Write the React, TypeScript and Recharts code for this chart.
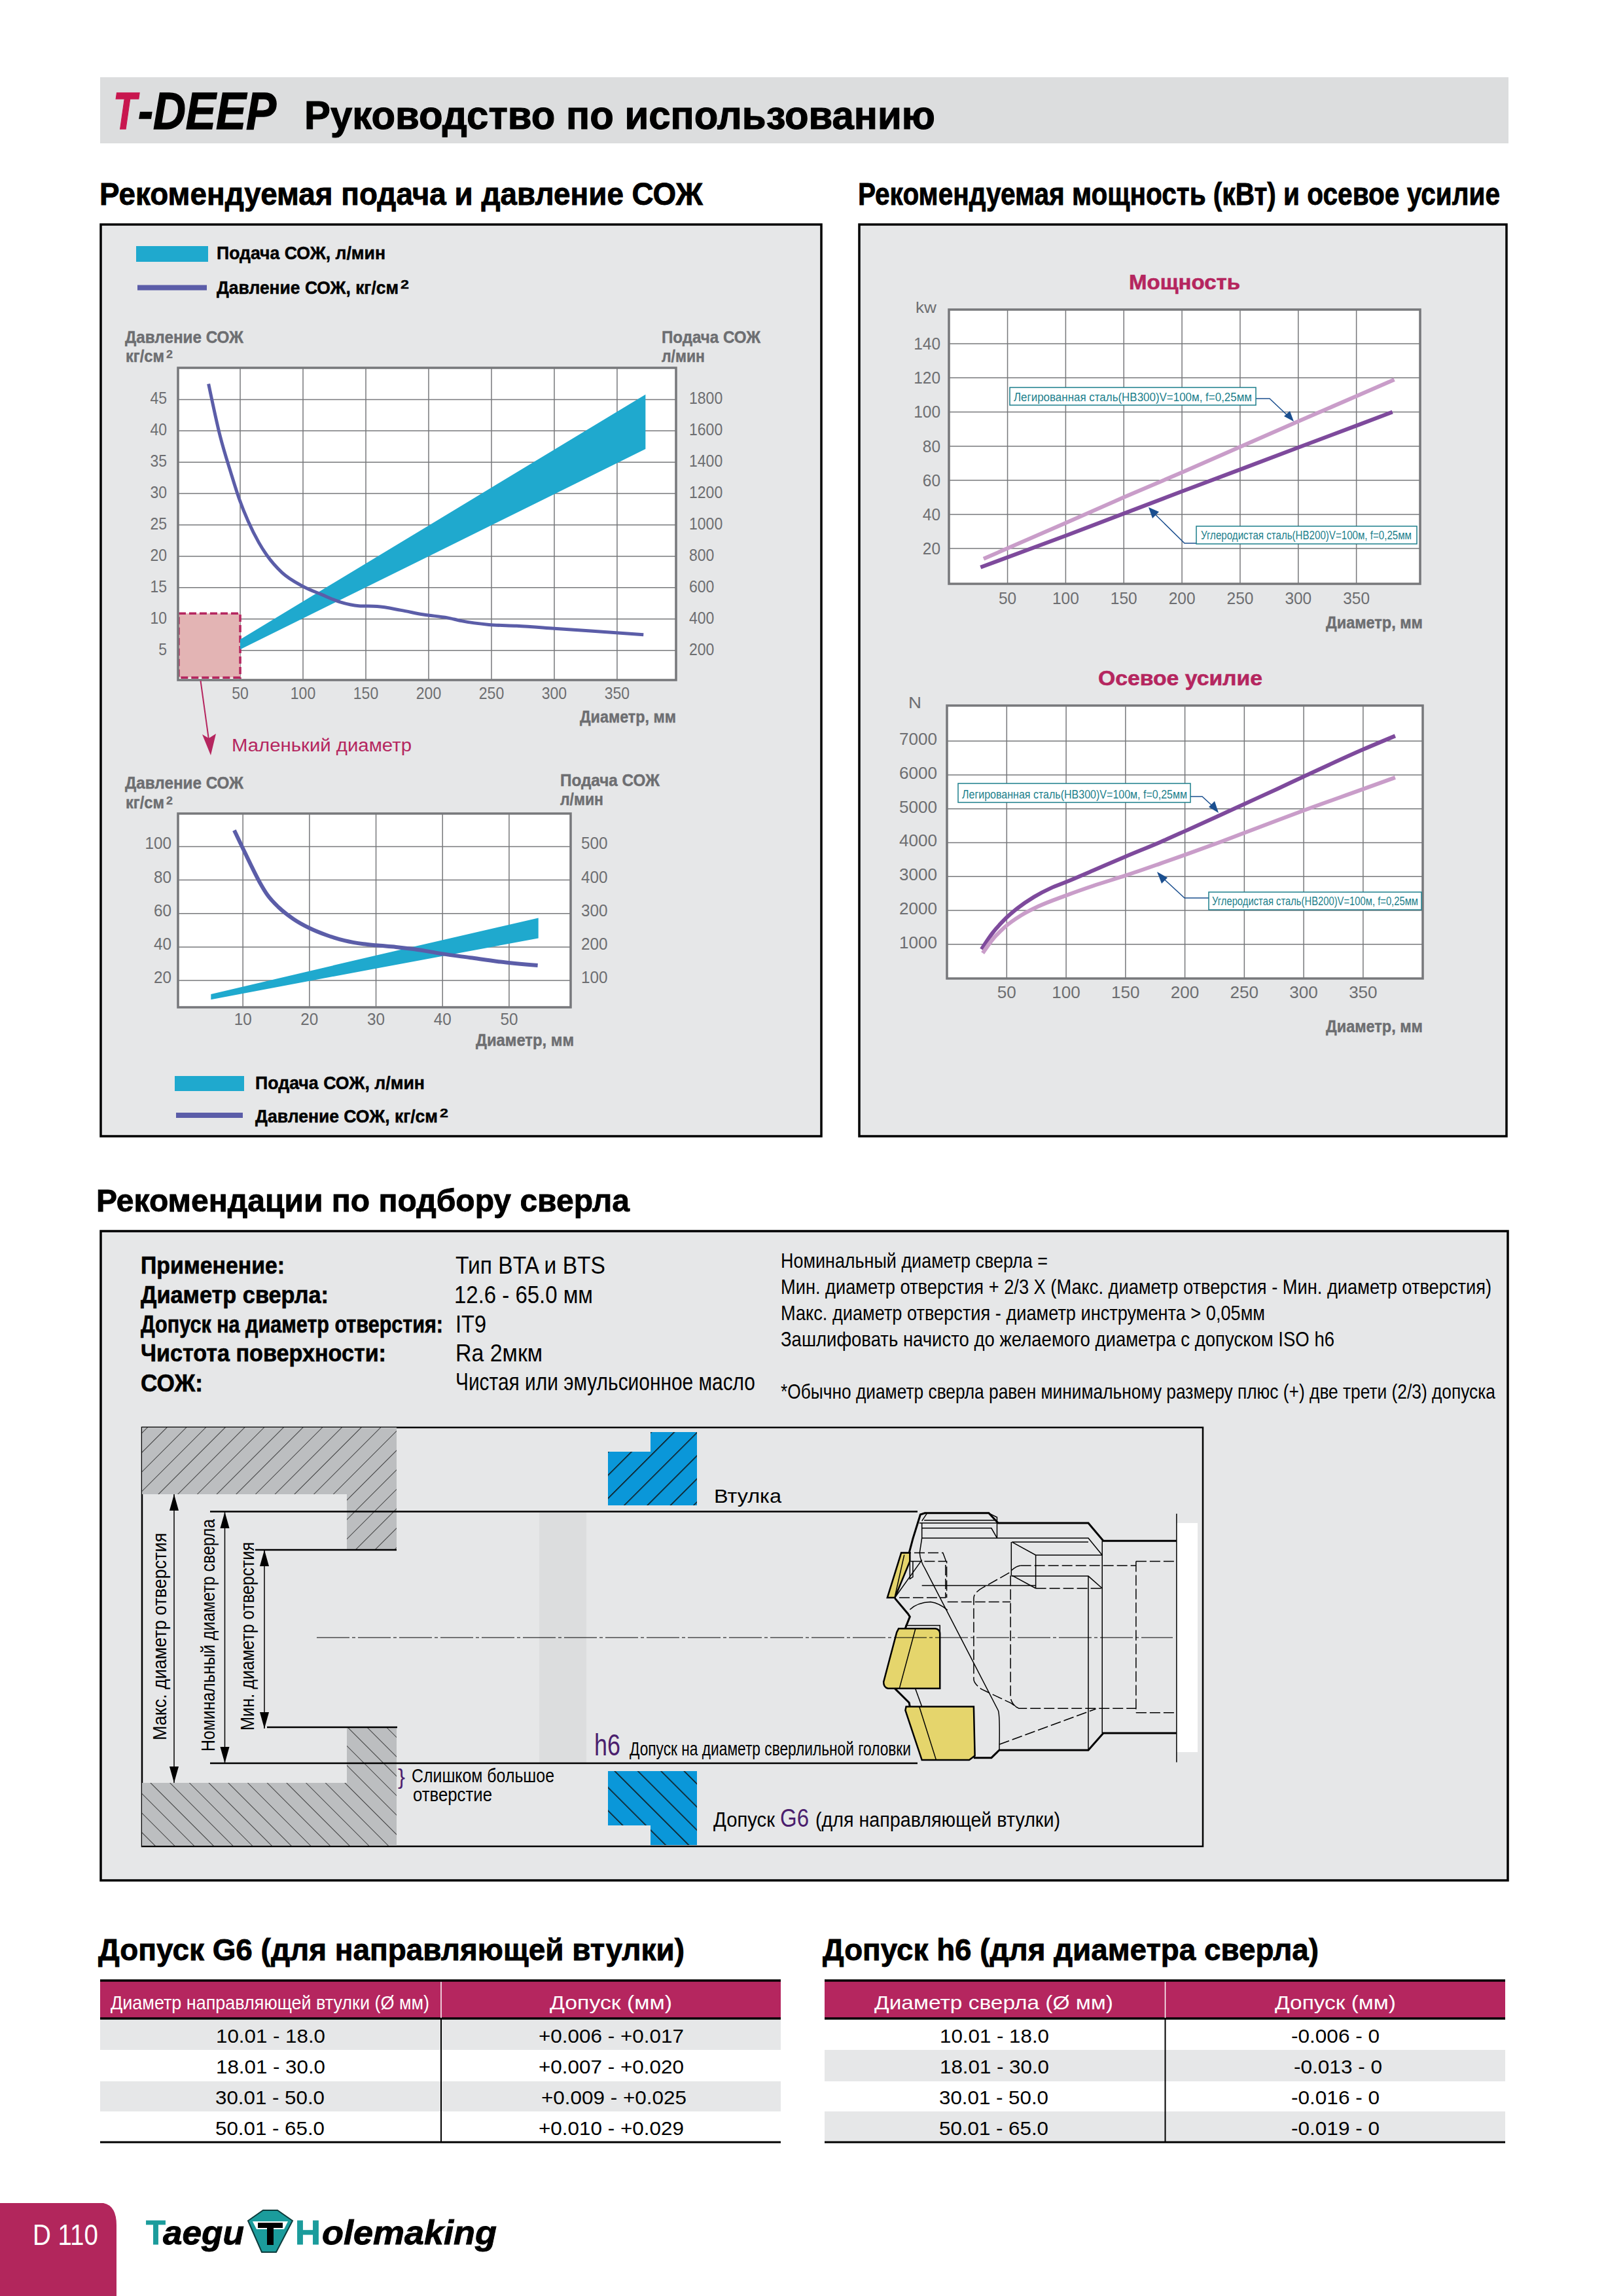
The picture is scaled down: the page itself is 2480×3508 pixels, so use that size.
import React from 'react';
import {
  ComposedChart,
  LineChart,
  Line,
  Area,
  XAxis,
  YAxis,
  CartesianGrid,
  ReferenceArea
} from 'recharts';

// flow / pressure, main range
const mainDiameterTicks = [50, 100, 150, 200, 250, 300, 350];
const mainPressureTicks = [5, 10, 15, 20, 25, 30, 35, 40, 45];
const mainFlowTicks = [200, 400, 600, 800, 1000, 1200, 1400, 1600, 1800];
const mainPressure = [
  { d: 24.8, p: 47.5 }, { d: 34.1, p: 39.1 }, { d: 42.6, p: 33.3 }, { d: 49.3, p: 29.1 },
  { d: 56.3, p: 25.6 }, { d: 64.8, p: 22.2 }, { d: 71.1, p: 20.2 }, { d: 83.3, p: 17.4 },
  { d: 100, p: 15.2 }, { d: 114.8, p: 13.9 }, { d: 129.6, p: 12.7 }, { d: 144.4, p: 12.1 },
  { d: 159, p: 12 }, { d: 178, p: 11.4 }, { d: 196, p: 10.7 }, { d: 215, p: 10.2 },
  { d: 226, p: 9.7 }, { d: 248, p: 9.1 }, { d: 270, p: 8.9 }, { d: 300, p: 8.5 },
  { d: 329, p: 8.1 }, { d: 371, p: 7.5 }
];
const mainFlow = [
  { d: 50, q: [206, 270] },
  { d: 200, q: [800, 996] },
  { d: 372.6, q: [1484, 1832] }
];

// flow / pressure, small diameters
const smallDiameterTicks = [10, 20, 30, 40, 50];
const smallPressureTicks = [20, 40, 60, 80, 100];
const smallFlowTicks = [100, 200, 300, 400, 500];
const smallPressure = [
  { d: 8.7, p: 109.7 }, { d: 10, p: 98.9 }, { d: 11.3, p: 88.2 }, { d: 12.7, p: 77.4 },
  { d: 13.7, p: 71 }, { d: 15.4, p: 63.6 }, { d: 17.6, p: 56.7 }, { d: 20, p: 51.3 },
  { d: 22.5, p: 47.2 }, { d: 25.3, p: 43.8 }, { d: 28.1, p: 41.8 }, { d: 30, p: 41 },
  { d: 33, p: 40 }, { d: 35.8, p: 38.7 }, { d: 40, p: 35.9 }, { d: 44.2, p: 33.6 },
  { d: 48.4, p: 31.3 }, { d: 54.3, p: 29 }
];
const smallFlow = [
  { d: 5.2, q: [43, 59] },
  { d: 30, q: [136, 175] },
  { d: 54.4, q: [226, 287] }
];

// power
const powerDiameterTicks = [50, 100, 150, 200, 250, 300, 350];
const powerTicks = [20, 40, 60, 80, 100, 120, 140];
const powerAlloy = [
  { d: 29.4, v: 14 }, { d: 100, v: 35 }, { d: 150, v: 50 }, { d: 200, v: 64.6 },
  { d: 250, v: 79.6 }, { d: 300, v: 94.5 }, { d: 350, v: 109.3 }, { d: 382.6, v: 119 }
];
const powerCarbon = [
  { d: 26.8, v: 9 }, { d: 100, v: 27.5 }, { d: 150, v: 40.5 }, { d: 200, v: 53.5 },
  { d: 250, v: 66.3 }, { d: 300, v: 79.2 }, { d: 350, v: 92 }, { d: 381, v: 100 }
];

// thrust
const thrustDiameterTicks = [50, 100, 150, 200, 250, 300, 350];
const thrustTicks = [1000, 2000, 3000, 4000, 5000, 6000, 7000];
const thrustAlloy = [
  { d: 28.8, v: 855 }, { d: 37.6, v: 1313 }, { d: 48.2, v: 1733 }, { d: 58.9, v: 2060 },
  { d: 73, v: 2400 }, { d: 87.2, v: 2660 }, { d: 100, v: 2840 }, { d: 122.7, v: 3180 },
  { d: 150, v: 3590 }, { d: 179.5, v: 4020 }, { d: 200, v: 4340 }, { d: 229, v: 4800 },
  { d: 250, v: 5140 }, { d: 278, v: 5590 }, { d: 300, v: 5950 }, { d: 350, v: 6750 },
  { d: 377, v: 7150 }
];
const thrustCarbon = [
  { d: 29.8, v: 740 }, { d: 37.6, v: 1122 }, { d: 48.2, v: 1504 }, { d: 62.4, v: 1860 },
  { d: 76.6, v: 2120 }, { d: 100, v: 2443 }, { d: 122.7, v: 2725 }, { d: 150, v: 3030 },
  { d: 179, v: 3380 }, { d: 200, v: 3640 }, { d: 229, v: 4010 }, { d: 250, v: 4290 },
  { d: 278, v: 4660 }, { d: 300, v: 4950 }, { d: 350, v: 5580 }, { d: 377, v: 5924 }
];

// tolerance tables
const g6Diameters = ['10.01 - 18.0', '18.01 - 30.0', '30.01 - 50.0', '50.01 - 65.0'];
const g6Tolerances = ['+0.006 - +0.017', '+0.007 - +0.020', '+0.009 - +0.025', '+0.010 - +0.029'];
const h6Diameters = ['10.01 - 18.0', '18.01 - 30.0', '30.01 - 50.0', '50.01 - 65.0'];
const h6Tolerances = ['-0.006 - 0', '-0.013 - 0', '-0.016 - 0', '-0.019 - 0'];

const FONT = '"Liberation Sans", Arial, sans-serif';
const GRAY = '#6d6e71';
const CRIMSON = '#b5265f';
const PANEL = '#e6e7e8';
const TEAL = '#1fa9ce';
const PRESSURE = '#5b5da8';
const DARK = '#7e4a9c';
const LIGHT = '#c99dc9';
const NOTE = '#1c7f8c';
const ARROW = '#1b4f8f';

type Plot = { x: number; y: number; w: number; h: number };

const T = ({ x, y, w, size, bold, italic, fill = '#000', rotate, children }: any) => (
  <text
    x={x}
    y={y}
    fontFamily={FONT}
    fontSize={size}
    fontWeight={bold ? 700 : 400}
    fontStyle={italic ? 'italic' : 'normal'}
    fill={fill}
    stroke={bold ? fill : 'none'}
    strokeWidth={bold ? size * 0.018 : 0}
    textLength={w}
    lengthAdjust="spacingAndGlyphs"
    transform={rotate ? `rotate(-90 ${x} ${y})` : undefined}
  >
    {children}
  </text>
);

// axis labels are squeezed to the width they have in the print
const AxisTick = ({ x, y, payload, textAnchor, charW, drop, size = 26 }: any) => (
  <text
    x={x}
    y={y + drop}
    textAnchor={textAnchor}
    fontFamily={FONT}
    fontSize={size}
    fill={GRAY}
    textLength={String(payload.value).length * charW}
    lengthAdjust="spacingAndGlyphs"
  >
    {payload.value}
  </text>
);

const frameStyle = (plot: Plot): React.CSSProperties => ({
  position: 'absolute',
  left: plot.x - 100,
  top: plot.y - 20
});

type FlowChartProps = {
  plot: Plot;
  xDomain: number[];
  xTicks: number[];
  pressureDomain: number[];
  pressureTicks: number[];
  flowDomain: number[];
  flowTicks: number[];
  pressure: { d: number; p: number }[];
  flow: { d: number; q: number[] }[];
  charW: number;
  xDrop: number;
  yDrop: number;
  leftGap: number;
  rightGap: number;
  lineWidth: number;
  showSmallRange?: boolean;
};

const FlowChart = ({
  plot, xDomain, xTicks, pressureDomain, pressureTicks, flowDomain, flowTicks, pressure, flow,
  charW, xDrop, yDrop, leftGap, rightGap, lineWidth, showSmallRange
}: FlowChartProps) => (
  <div style={frameStyle(plot)}>
    <ComposedChart
      width={plot.w + 200}
      height={plot.h + 80}
      margin={{ top: 20, right: 0, bottom: 0, left: 0 }}
    >
      <CartesianGrid yAxisId="left" stroke="#77787b" strokeWidth={1.5} fill="#fff" />
      <XAxis
        dataKey="d"
        type="number"
        domain={xDomain}
        ticks={xTicks}
        interval={0}
        height={60}
        tickLine={false}
        axisLine={false}
        tickSize={0}
        tickMargin={0}
        tick={(p: any) => <AxisTick {...p} charW={charW} drop={xDrop} />}
        allowDataOverflow
      />
      <YAxis
        yAxisId="left"
        type="number"
        domain={pressureDomain}
        ticks={pressureTicks}
        interval={0}
        width={100}
        tickLine={false}
        axisLine={false}
        tickSize={0}
        tickMargin={leftGap}
        tick={(p: any) => <AxisTick {...p} charW={charW} drop={yDrop} />}
        allowDataOverflow
      />
      <YAxis
        yAxisId="right"
        orientation="right"
        type="number"
        domain={flowDomain}
        ticks={flowTicks}
        interval={0}
        width={100}
        tickLine={false}
        axisLine={false}
        tickSize={0}
        tickMargin={rightGap}
        tick={(p: any) => <AxisTick {...p} charW={charW} drop={yDrop} />}
        allowDataOverflow
      />
      {showSmallRange && (
        <ReferenceArea
          yAxisId="left"
          x1={1}
          x2={50}
          y1={0.65}
          y2={10.9}
          fill="#e3b4b4"
          fillOpacity={1}
          stroke={CRIMSON}
          strokeWidth={3.5}
          strokeDasharray="11 5"
        />
      )}
      <Area
        yAxisId="right"
        data={flow}
        dataKey="q"
        type="linear"
        fill={TEAL}
        fillOpacity={1}
        stroke="none"
        isAnimationActive={false}
      />
      <Line
        yAxisId="left"
        data={pressure}
        dataKey="p"
        type="monotone"
        stroke={PRESSURE}
        strokeWidth={lineWidth}
        dot={false}
        isAnimationActive={false}
      />
    </ComposedChart>
  </div>
);

type SteelChartProps = {
  plot: Plot;
  xDomain: number[];
  xTicks: number[];
  yDomain: number[];
  yTicks: number[];
  charW: number;
  xDrop: number;
  yDrop: number;
  leftGap: number;
  curve: 'linear' | 'monotone';
  first: { d: number; v: number }[];
  firstColor: string;
  second: { d: number; v: number }[];
  secondColor: string;
};

const SteelChart = ({
  plot, xDomain, xTicks, yDomain, yTicks, charW, xDrop, yDrop, leftGap, curve,
  first, firstColor, second, secondColor
}: SteelChartProps) => (
  <div style={frameStyle(plot)}>
    <LineChart
      width={plot.w + 200}
      height={plot.h + 80}
      margin={{ top: 20, right: 100, bottom: 0, left: 0 }}
    >
      <CartesianGrid stroke="#77787b" strokeWidth={1.5} fill="#fff" />
      <XAxis
        dataKey="d"
        type="number"
        domain={xDomain}
        ticks={xTicks}
        interval={0}
        height={60}
        tickLine={false}
        axisLine={false}
        tickSize={0}
        tickMargin={0}
        tick={(p: any) => <AxisTick {...p} charW={charW} drop={xDrop} />}
        allowDataOverflow
      />
      <YAxis
        type="number"
        domain={yDomain}
        ticks={yTicks}
        interval={0}
        width={100}
        tickLine={false}
        axisLine={false}
        tickSize={0}
        tickMargin={leftGap}
        tick={(p: any) => <AxisTick {...p} charW={charW} drop={yDrop} />}
        allowDataOverflow
      />
      <Line data={first} dataKey="v" type={curve} stroke={firstColor} strokeWidth={6} dot={false} isAnimationActive={false} />
      <Line data={second} dataKey="v" type={curve} stroke={secondColor} strokeWidth={6} dot={false} isAnimationActive={false} />
    </LineChart>
  </div>
);

const Panel = ({ x, y, w, h }: any) => (
  <rect x={x} y={y} width={w} height={h} fill={PANEL} stroke="#000" strokeWidth={3.5} />
);

const AxisUnit = ({ x, y }: any) => (
  <>
    <T x={x} y={y} w={59} size={25} bold fill={GRAY}>кг/см</T>
    <T x={x + 62} y={y - 6} w={10} size={17} bold fill={GRAY}>2</T>
  </>
);

const LegendRows = ({ rectX, rectW, rectY, rectH, lineY, textX, flowW, pressureW, flowBase, pressureBase }: any) => (
  <>
    <rect x={rectX} y={rectY} width={rectW} height={rectH} fill={TEAL} />
    <T x={textX} y={flowBase} w={flowW} size={28} bold>Подача СОЖ, л/мин</T>
    <line x1={rectX + 2} x2={rectX + rectW - 2} y1={lineY} y2={lineY} stroke={PRESSURE} strokeWidth={8} />
    <T x={textX} y={pressureBase} w={pressureW} size={28} bold>Давление СОЖ, кг/см</T>
    <T x={textX + pressureW + 3} y={pressureBase - 8} w={13} size={19} bold>2</T>
  </>
);

const ToleranceTable = ({ x, w, divider, rows, tols, oddGray, head1, head2, spans, tolSpans }: any) => {
  const tops = [3086, 3132, 3180, 3226];
  const bottoms = [3132, 3180, 3226, 3272];
  const bases = [3121, 3168, 3215, 3262];
  return (
    <>
      <rect x={x} y={3026} width={w} height={58} fill={CRIMSON} />
      {tops.map((top, i) =>
        (i % 2 === 0) === oddGray ? (
          <rect key={top} x={x} y={top} width={w} height={bottoms[i] - top} fill={PANEL} />
        ) : null
      )}
      <line x1={x} x2={x + w} y1={3026} y2={3026} stroke="#000" strokeWidth={3.5} />
      <line x1={x} x2={x + w} y1={3084} y2={3084} stroke="#000" strokeWidth={3.5} />
      <line x1={x} x2={x + w} y1={3273} y2={3273} stroke="#000" strokeWidth={3} />
      <line x1={divider} x2={divider} y1={3028} y2={3083} stroke="#fff" strokeWidth={1.5} />
      <line x1={divider} x2={divider} y1={3085} y2={3272} stroke="#000" strokeWidth={2} />
      <T x={head1[0]} y={3070} w={head1[1]} size={30} fill="#fff">{head1[2]}</T>
      <T x={head2[0]} y={3070} w={head2[1]} size={30} fill="#fff">{head2[2]}</T>
      {rows.map((row: string, i: number) => (
        <T key={row} x={spans[i]} y={bases[i]} w={167} size={30}>{row}</T>
      ))}
      {tols.map((tol: string, i: number) => (
        <T key={tol} x={tolSpans[i][0]} y={bases[i]} w={tolSpans[i][1]} size={30}>{tol}</T>
      ))}
    </>
  );
};

const thickDrill = [
  'M1390,448 H1195 L1155,385 H915 L890,350 H720 L708,355 L688,440 L678,490',
  'M1390,1125 H1195 L1155,1185 H918 L897,1212 H850',
  'M640,650 L675,705 L680,715 L668,755',
  'M640,968 L678,1018 L680,1032'
];
const thinDrill = [
  'M712,438 H1155 L1192,498',
  'M952,452 H1155',
  'M952,452 L1015,498 H1192',
  'M1015,498 V615',
  'M952,570 L1015,615',
  'M1192,448 V1125',
  'M950,452 V570',
  'M950,572 H1155 L1192,615',
  'M1155,572 V1185',
  'M712,605 H1015',
  'M718,375 H912',
  'M725,352 L712,378',
  'M705,385 H915',
  'M712,403 H897 L912,438',
  'M890,350 L912,365 V438',
  'M712,385 V438 L706,490 Q708,520 720,545 L915,1045 Q920,1060 918,1185',
  'M640,648 L712,515',
  'M680,690 Q700,665 735,663 Q760,668 780,692',
  'M695,970 L712,1032',
  'M680,520 V582 L688,575 V520',
  'M668,746 H760 V820',
  'M1390,352 V1228'
];
const dashedDrill = [
  'M655,490 H768 L775,515 V648 H650',
  'M682,520 H778 V648',
  'M780,663 H948',
  'M975,535 H1282',
  'M975,535 Q960,537 945,560 L875,612 Q850,630 850,650 V935 Q850,950 870,970 L950,1020 Q960,1030 970,1038 H1282',
  'M948,570 V1000 Q950,1020 965,1035',
  'M1282,520 V1053',
  'M1282,520 H1390',
  'M1282,1053 H1390',
  'M918,1165 L1175,1040',
  'M1015,615 H1192'
];

const DrillHead = () => (
  <g transform="translate(1000,2160) scale(0.574,0.4337)">
    <rect x={1390} y={385} width={56} height={807} fill="#fff" />
    <path d="M650,757 H748 Q760,760 760,775 V968 H622 Q610,965 610,945 L645,770 Z" fill="#e5d56c" stroke="#000" strokeWidth={2.5} vectorEffect="non-scaling-stroke" />
    <path d="M670,1032 H850 L853,1205 L838,1220 H712 L668,1045 Z" fill="#e5d56c" stroke="#000" strokeWidth={2.5} vectorEffect="non-scaling-stroke" />
    <path d="M657,490 H680 V520 L640,648 H620 Z" fill="#e5d56c" stroke="#000" strokeWidth={2.5} vectorEffect="non-scaling-stroke" />
    <path d="M695,757 L652,968 M705,1032 L750,1220 M665,497 L640,645" fill="none" stroke="#000" strokeWidth={1.5} vectorEffect="non-scaling-stroke" />
    {thickDrill.map((d) => (
      <path key={d} d={d} fill="none" stroke="#000" strokeWidth={3} vectorEffect="non-scaling-stroke" />
    ))}
    {thinDrill.map((d) => (
      <path key={d} d={d} fill="none" stroke="#000" strokeWidth={1.5} vectorEffect="non-scaling-stroke" />
    ))}
    {dashedDrill.map((d) => (
      <path key={d} d={d} fill="none" stroke="#000" strokeWidth={1.5} strokeDasharray="16 5" vectorEffect="non-scaling-stroke" />
    ))}
  </g>
);

const DimArrow = ({ x, y1, y2 }: any) => (
  <>
    <line x1={x} x2={x} y1={y1} y2={y2} stroke="#000" strokeWidth={1.5} />
    <polygon points={`${x},${y1} ${x - 7},${y1 + 25} ${x + 7},${y1 + 25}`} fill="#000" />
    <polygon points={`${x},${y2} ${x - 7},${y2 - 25} ${x + 7},${y2 - 25}`} fill="#000" />
  </>
);

const Note = ({ x, y, w, h, textX, textY, textW, children, leader, head }: any) => (
  <>
    <polyline points={leader} fill="none" stroke={ARROW} strokeWidth={1.5} />
    <polygon points={head} fill={ARROW} />
    <rect x={x} y={y} width={w} height={h} fill="#fff" stroke={NOTE} strokeWidth={1.5} />
    <T x={textX} y={textY} w={textW} size={18} fill={NOTE}>{children}</T>
  </>
);

const Page = () => (
  <svg width={2480} height={3508} style={{ position: 'absolute', left: 0, top: 0 }}>
    <defs>
      <pattern id="hatchUp" width={21} height={21} patternUnits="userSpaceOnUse" patternTransform="rotate(45)">
        <line x1={0} x2={0} y1={0} y2={21} stroke="#222" strokeWidth={1.6} />
      </pattern>
      <pattern id="hatchDown" width={21} height={21} patternUnits="userSpaceOnUse" patternTransform="rotate(-45)">
        <line x1={0} x2={0} y1={0} y2={21} stroke="#222" strokeWidth={1.6} />
      </pattern>
      <pattern id="blueUp" width={25} height={25} patternUnits="userSpaceOnUse" patternTransform="rotate(45)">
        <line x1={0} x2={0} y1={0} y2={25} stroke="#111" strokeWidth={3} />
      </pattern>
      <pattern id="blueDown" width={25} height={25} patternUnits="userSpaceOnUse" patternTransform="rotate(-45)">
        <line x1={0} x2={0} y1={0} y2={25} stroke="#111" strokeWidth={3} />
      </pattern>
    </defs>

    {/* page header */}
    <rect x={153} y={118} width={2152} height={101} fill="#dcddde" />
    <T x={173} y={197} w={36} size={80} bold italic fill="#c8174f">T</T>
    <T x={211} y={197} w={211} size={80} bold italic>-DEEP</T>
    <T x={465} y={197} w={964} size={62} bold>Руководство по использованию</T>
    <T x={152} y={313} w={922} size={49} bold>Рекомендуемая подача и давление СОЖ</T>
    <T x={1311} y={313} w={981} size={49} bold>Рекомендуемая мощность (кВт) и осевое усилие</T>

    <Panel x={154} y={343} w={1101} h={1393} />
    <Panel x={1313} y={343} w={989} h={1393} />

    <LegendRows rectX={208} rectW={110} rectY={376} rectH={24} lineY={439.5} textX={331} flowW={258} pressureW={278} flowBase={396} pressureBase={449} />
    <T x={191} y={524} w={181} size={25} bold fill={GRAY}>Давление СОЖ</T>
    <AxisUnit x={192} y={553} />
    <T x={1011} y={524} w={151} size={25} bold fill={GRAY}>Подача СОЖ</T>
    <T x={1011} y={553} w={66} size={25} bold fill={GRAY}>л/мин</T>
    <T x={886} y={1104} w={147} size={25} bold fill={GRAY}>Диаметр, мм</T>
    <T x={354} y={1148} w={275} size={27} fill={CRIMSON}>Маленький диаметр</T>

    <T x={191} y={1205} w={181} size={25} bold fill={GRAY}>Давление СОЖ</T>
    <AxisUnit x={192} y={1235} />
    <T x={856} y={1201} w={152} size={25} bold fill={GRAY}>Подача СОЖ</T>
    <T x={856} y={1230} w={66} size={25} bold fill={GRAY}>л/мин</T>
    <T x={727} y={1598} w={150} size={25} bold fill={GRAY}>Диаметр, мм</T>
    <LegendRows rectX={267} rectW={106} rectY={1644} rectH={23} lineY={1704} textX={390} flowW={259} pressureW={279} flowBase={1664} pressureBase={1715} />

    <T x={1725} y={442} w={170} size={32} bold fill={CRIMSON}>Мощность</T>
    <T x={1399} y={478} w={32} size={24} fill={GRAY}>kw</T>
    <T x={2026} y={960} w={148} size={25} bold fill={GRAY}>Диаметр, мм</T>
    <T x={1678} y={1047} w={251} size={32} bold fill={CRIMSON}>Осевое усилие</T>
    <T x={1388} y={1082} w={20} size={24} fill={GRAY}>N</T>
    <T x={2026} y={1577} w={148} size={25} bold fill={GRAY}>Диаметр, мм</T>

    {/* drill selection */}
    <T x={147} y={1851} w={815} size={49} bold>Рекомендации по подбору сверла</T>
    <Panel x={154} y={1881} w={2150} h={992} />
    <T x={215} y={1946} w={220} size={36} bold>Применение:</T>
    <T x={215} y={1991} w={287} size={36} bold>Диаметр сверла:</T>
    <T x={215} y={2036} w={462} size={36} bold>Допуск на диаметр отверстия:</T>
    <T x={215} y={2080} w={375} size={36} bold>Чистота поверхности:</T>
    <T x={215} y={2126} w={95} size={36} bold>СОЖ:</T>
    <T x={696} y={1946} w={229} size={37}>Тип BTA и BTS</T>
    <T x={694} y={1991} w={212} size={37}>12.6 - 65.0 мм</T>
    <T x={696} y={2036} w={47} size={37}>IT9</T>
    <T x={696} y={2080} w={133} size={37}>Ra 2мкм</T>
    <T x={696} y={2124} w={458} size={37}>Чистая или эмульсионное масло</T>
    <T x={1193} y={1937} w={408} size={32}>Номинальный диаметр сверла =</T>
    <T x={1193} y={1977} w={1086} size={32}>Мин. диаметр отверстия + 2/3 X (Макс. диаметр отверстия - Мин. диаметр отверстия)</T>
    <T x={1193} y={2017} w={740} size={32}>Макс. диаметр отверстия - диаметр инструмента &gt; 0,05мм</T>
    <T x={1193} y={2057} w={846} size={32}>Зашлифовать начисто до желаемого диаметра с допуском  ISO h6</T>
    <T x={1193} y={2137} w={1092} size={32}>*Обычно диаметр сверла равен минимальному размеру плюс (+) две трети (2/3) допуска</T>

    <rect x={217} y={2181} width={1621} height={640} fill={PANEL} stroke="#000" strokeWidth={2.5} />
    <path d="M217,2181 H606 V2368 H530 V2283 H217 Z" fill="#bcbec0" />
    <path d="M217,2181 H606 V2368 H530 V2283 H217 Z" fill="url(#hatchUp)" />
    <path d="M530,2639 H606 V2820 H217 V2724 H530 Z" fill="#bcbec0" />
    <path d="M530,2639 H606 V2820 H217 V2724 H530 Z" fill="url(#hatchDown)" />
    <rect x={824} y={2310} width={72} height={384} fill="#dcddde" />
    <path d="M929,2218 H994 V2188 H1065 V2300 H929 Z" fill="#0a97d9" />
    <path d="M929,2218 H994 V2188 H1065 V2300 H929 Z" fill="url(#blueUp)" />
    <path d="M929,2706 H1065 V2819 H994 V2789 H929 Z" fill="#0a97d9" />
    <path d="M929,2706 H1065 V2819 H994 V2789 H929 Z" fill="url(#blueDown)" />

    <line x1={321} x2={1402} y1={2309.5} y2={2309.5} stroke="#000" strokeWidth={2.5} />
    <line x1={321} x2={1402} y1={2694} y2={2694} stroke="#000" strokeWidth={2.5} />
    <line x1={390} x2={606} y1={2368} y2={2368} stroke="#000" strokeWidth={2.5} />
    <line x1={408} x2={607} y1={2639} y2={2639} stroke="#000" strokeWidth={2.5} />
    <DimArrow x={266} y1={2283} y2={2724} />
    <DimArrow x={343.5} y1={2310} y2={2694} />
    <DimArrow x={404} y1={2368} y2={2641} />
    <T x={254} y={2659} w={317} size={30} rotate>Макс. диаметр отверстия</T>
    <T x={327.5} y={2676} w={355} size={30} rotate>Номинальный диаметр сверла</T>
    <T x={388} y={2644} w={288} size={30} rotate>Мин. диаметр отверстия</T>

    <DrillHead />
    <line x1={484} x2={1792} y1={2502} y2={2502} stroke="#000" strokeWidth={1.2} strokeDasharray="50 4 5 4" />

    <T x={1091} y={2296} w={103} size={30}>Втулка</T>
    <T x={908} y={2682} w={40} size={46} fill="#4b1e6e">h6</T>
    <T x={962} y={2682} w={430} size={30}>Допуск на диаметр сверлильной головки</T>
    <T x={608} y={2726} w={11} size={34} fill="#4b1e6e">{'}'}</T>
    <T x={629} y={2723} w={218} size={30}>Слишком большое</T>
    <T x={631} y={2752} w={121} size={30}>отверстие</T>
    <T x={1090} y={2791} w={94} size={31}>Допуск</T>
    <T x={1192} y={2791} w={44} size={38} fill="#4b1e6e">G6</T>
    <T x={1246} y={2791} w={374} size={31}>(для направляющей втулки)</T>

    {/* tolerance tables */}
    <T x={150} y={2995} w={896} size={47} bold>Допуск G6 (для направляющей втулки)</T>
    <T x={1257} y={2995} w={758} size={47} bold>Допуск h6 (для диаметра сверла)</T>
    <ToleranceTable
      x={153}
      w={1040}
      divider={674}
      oddGray
      rows={g6Diameters}
      tols={g6Tolerances}
      head1={[169, 487, 'Диаметр направляющей втулки (Ø мм)']}
      head2={[840, 187, 'Допуск (мм)']}
      spans={[330, 330, 329, 329]}
      tolSpans={[[823, 222], [823, 222], [827, 222], [823, 222]]}
    />
    <ToleranceTable
      x={1260}
      w={1040}
      divider={1780.5}
      oddGray={false}
      rows={h6Diameters}
      tols={h6Tolerances}
      head1={[1336, 365, 'Диаметр сверла (Ø мм)']}
      head2={[1948, 185, 'Допуск (мм)']}
      spans={[1436, 1436, 1435, 1435]}
      tolSpans={[[1973, 135], [1977, 135], [1973, 135], [1973, 135]]}
    />

    {/* footer */}
    <path d="M0,3366 H158 Q178,3370 178,3400 V3508 H0 Z" fill="#b2265c" />
    <T x={50} y={3430} w={100} size={44} fill="#fff">D 110</T>
    <T x={223} y={3429} w={30} size={52} bold fill="#1b9c9c">T</T>
    <T x={249} y={3429} w={124} size={52} bold italic>aegu</T>
    <polygon points="402,3377 424,3377 447,3393 422,3441 400,3441 379,3393" fill="#1b9c9c" stroke="#0d3b3b" strokeWidth={2} />
    <polygon points="386,3394 440,3394 434,3406 392,3406" fill="#fff" />
    <path d="M394,3396 H432 V3404 H418 V3430 H408 V3404 H394 Z" fill="#000" />
    <T x={451} y={3429} w={39} size={52} bold fill="#1b9c9c">H</T>
    <T x={492} y={3429} w={267} size={52} bold italic>olemaking</T>
  </svg>
);

const Overlay = () => (
  <svg width={2480} height={3508} style={{ position: 'absolute', left: 0, top: 0, pointerEvents: 'none' }}>
    <rect x={272} y={562} width={761} height={477} fill="none" stroke="#77787b" strokeWidth={3.5} />
    <rect x={272} y={1243} width={600} height={296} fill="none" stroke="#77787b" strokeWidth={3.5} />
    <rect x={1450} y={473} width={720} height={419} fill="none" stroke="#77787b" strokeWidth={3.5} />
    <rect x={1447} y={1078} width={727} height={417} fill="none" stroke="#77787b" strokeWidth={3.5} />

    <line x1={306.5} y1={1040} x2={319} y2={1130} stroke={CRIMSON} strokeWidth={2} />
    <polygon points="322,1154 309,1122 319,1128 330,1121" fill={CRIMSON} />

    <Note
      x={1543} y={592} w={376} h={27}
      textX={1549} textY={613} textW={364}
      leader="1919,609 1940,609 1975,642"
      head="1977,644 1962,636 1971,628"
    >Легированная сталь(HB300)V=100м, f=0,25мм</Note>
    <Note
      x={1828} y={804} w={337} h={27}
      textX={1835} textY={824} textW={322}
      leader="1828,830 1810,830 1757,778"
      head="1755,775 1771,782 1761,792"
    >Углеродистая сталь(HB200)V=100м, f=0,25мм</Note>
    <Note
      x={1464} y={1197} w={355} h={29}
      textX={1470} textY={1220} textW={344}
      leader="1819,1217 1837,1217 1860,1238"
      head="1862,1242 1847,1233 1856,1224"
    >Легированная сталь(HB300)V=100м, f=0,25мм</Note>
    <Note
      x={1847} y={1363} w={325} h={27}
      textX={1852} textY={1383} textW={315}
      leader="1847,1372 1810,1372 1770,1335"
      head="1768,1332 1784,1341 1775,1350"
    >Углеродистая сталь(HB200)V=100м, f=0,25мм</Note>
  </svg>
);

const App = () => (
  <div style={{ position: 'absolute', left: 0, top: 0, width: 2480, height: 3508, background: '#fff', overflow: 'hidden' }}>
    <Page />
    <FlowChart
      plot={{ x: 272, y: 562, w: 761, h: 477 }}
      xDomain={[0.5, 396.9]}
      xTicks={mainDiameterTicks}
      pressureDomain={[0.27, 50.05]}
      pressureTicks={mainPressureTicks}
      flowDomain={[10.8, 2002]}
      flowTicks={mainFlowTicks}
      pressure={mainPressure}
      flow={mainFlow}
      charW={12.8}
      xDrop={29}
      yDrop={7}
      leftGap={17}
      rightGap={20}
      lineWidth={5}
      showSmallRange
    />
    <FlowChart
      plot={{ x: 272, y: 1243, w: 600, h: 296 }}
      xDomain={[0.25, 59.25]}
      xTicks={smallDiameterTicks}
      pressureDomain={[4, 119.7]}
      pressureTicks={smallPressureTicks}
      flowDomain={[20, 598.5]}
      flowTicks={smallFlowTicks}
      pressure={smallPressure}
      flow={smallFlow}
      charW={13.5}
      xDrop={27}
      yDrop={4}
      leftGap={10}
      rightGap={16}
      lineWidth={6}
    />
    <SteelChart
      plot={{ x: 1450, y: 473, w: 720, h: 419 }}
      xDomain={[-0.4, 404.8]}
      xTicks={powerDiameterTicks}
      yDomain={[-0.67, 160]}
      yTicks={powerTicks}
      charW={13.6}
      xDrop={31}
      yDrop={9}
      leftGap={13}
      curve="linear"
      first={powerAlloy}
      firstColor={LIGHT}
      second={powerCarbon}
      secondColor={DARK}
    />
    <SteelChart
      plot={{ x: 1447, y: 1078, w: 727, h: 417 }}
      xDomain={[-0.3, 400.2]}
      xTicks={thrustDiameterTicks}
      yDomain={[-8, 8046]}
      yTicks={thrustTicks}
      charW={14.5}
      xDrop={30}
      yDrop={6}
      leftGap={15}
      curve="monotone"
      first={thrustAlloy}
      firstColor={DARK}
      second={thrustCarbon}
      secondColor={LIGHT}
    />
    <Overlay />
  </div>
);

export default App;
